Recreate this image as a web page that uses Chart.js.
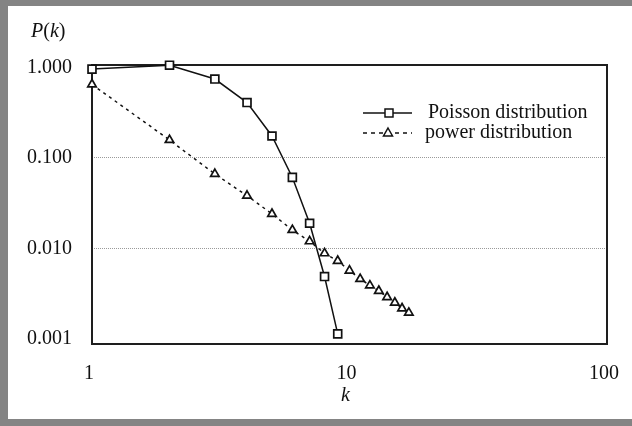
<!DOCTYPE html>
<html>
<head>
<meta charset="utf-8">
<script src="https://cdn.jsdelivr.net/npm/chart.js@4.4.1/dist/chart.umd.min.js"></script>
<style>
    html, body { margin: 0; padding: 0; background: #fff; }
    #frame {
        position: absolute; left: 0; top: 0;
        width: 632px; height: 426px; box-sizing: border-box;
        border-left: 8px solid #848484;
        border-top: 6px solid #848484;
        border-bottom: 7px solid #848484;
        background: #fff;
    }
    #box { position: relative; width: 624px; height: 413px; }
</style>
</head>
<body>
<div id="frame"><div id="box"><canvas id="grafico"></canvas></div></div>
<script>
const serif = "'Liberation Serif', 'DejaVu Serif', serif";

// valores
const kPoisson = [1, 2, 3, 4, 5, 6, 7, 8, 9];
const poissonValues = [0.96, 1.06, 0.746, 0.41, 0.175, 0.061, 0.019, 0.0049, 0.00114];

const kPower = [1, 2, 3, 4, 5, 6, 7, 8, 9, 10, 11, 12, 13, 14, 15, 16, 17];
const powerValues = [0.65, 0.158, 0.0666, 0.0383, 0.0241, 0.016, 0.012, 0.00885, 0.0073,
    0.0057, 0.0046, 0.0039, 0.0034, 0.0029, 0.00252, 0.00218, 0.00195];

const xTicks = [1, 10, 100];
const yTicks = [0.001, 0.01, 0.1, 1];
const yGridValues = [0.01, 0.1];

const seriesNames = ["Poisson distribution", "power distribution"];

// moldura, legenda e títulos dos eixos
const framePlugin = {
    id: "framePlugin",
    beforeDatasetsDraw(chart) {
        const { ctx, chartArea: a } = chart;
        ctx.save();
        ctx.strokeStyle = "#1e1e1e";
        ctx.lineWidth = 2;
        ctx.strokeRect(a.left, a.top, a.right - a.left, a.bottom - a.top);
        ctx.restore();
    },
    afterDraw(chart) {
        const { ctx, chartArea: a } = chart;
        ctx.save();
        ctx.fillStyle = "#111";
        ctx.textBaseline = "middle";

        // P(k)
        let x = 23;
        const y = 26;
        const parts = [["P", true], ["(", false], ["k", true], [")", false]];
        parts.forEach(([t, it]) => {
            ctx.font = (it ? "italic " : "") + "20px " + serif;
            ctx.fillText(t, x, y);
            x += ctx.measureText(t).width;
        });

        // k
        ctx.font = "italic 20px " + serif;
        ctx.textAlign = "center";
        ctx.fillText("k", (a.left + a.right) / 2 - 4, a.bottom + 52);

        // legenda
        ctx.textAlign = "left";
        ctx.font = "20px " + serif;
        const lx = a.left + 271;
        const rows = [a.top + 48, a.top + 68];
        ctx.strokeStyle = "#111";
        ctx.lineWidth = 1.5;

        ctx.beginPath();
        ctx.moveTo(lx, rows[0]);
        ctx.lineTo(lx + 49, rows[0]);
        ctx.stroke();
        ctx.fillStyle = "#fff";
        ctx.fillRect(lx + 22, rows[0] - 4, 8, 8);
        ctx.strokeRect(lx + 22, rows[0] - 4, 8, 8);

        ctx.setLineDash([4, 4]);
        ctx.beginPath();
        ctx.moveTo(lx, rows[1]);
        ctx.lineTo(lx + 49, rows[1]);
        ctx.stroke();
        ctx.setLineDash([]);
        const tx = lx + 25, ty = rows[1];
        ctx.beginPath();
        ctx.moveTo(tx, ty - 5);
        ctx.lineTo(tx + 4.5, ty + 3);
        ctx.lineTo(tx - 4.5, ty + 3);
        ctx.closePath();
        ctx.fill();
        ctx.stroke();

        ctx.fillStyle = "#111";
        ctx.fillText(seriesNames[0], lx + 65, rows[0]);
        ctx.fillText(seriesNames[1], lx + 62, rows[1]);
        ctx.restore();
    },
};

const data = {
    datasets: [
        {
            label: seriesNames[0],
            data: kPoisson.map((k, i) => ({ x: k, y: poissonValues[i] })),
            borderColor: "#111",
            borderWidth: 1.5,
            pointStyle: "rect",
            pointRadius: 5.6,
            pointBorderWidth: 1.7,
            pointBorderColor: "#111",
            pointBackgroundColor: "#fff",
            tension: 0,
        },
        {
            label: seriesNames[1],
            data: kPower.map((k, i) => ({ x: k, y: powerValues[i] })),
            borderColor: "#111",
            borderWidth: 1.5,
            borderDash: [3, 4],
            pointStyle: "triangle",
            pointRadius: 4.9,
            pointBorderWidth: 1.7,
            pointBorderColor: "#111",
            pointBackgroundColor: "#fff",
            tension: 0,
        },
    ],
};

const options = {
    responsive: true,
    maintainAspectRatio: false,
    animation: false,
    clip: false,
    layout: { padding: { top: 59, right: 25, left: 0, bottom: 0 } },
    plugins: {
        legend: { display: false },
        tooltip: { enabled: false },
    },
    scales: {
        x: {
            type: "logarithmic",
            min: 1,
            max: 100,
            afterBuildTicks: (s) => { s.ticks = xTicks.map((v) => ({ value: v })); },
            afterFit: (s) => { s.height = 75; s.paddingLeft = 0; s.paddingRight = 0; },
            grid: { display: false, drawTicks: false },
            border: { display: false },
            ticks: {
                padding: 18,
                labelOffset: -3,
                color: "#111",
                font: { family: serif, size: 20 },
                maxRotation: 0,
                callback: (v) => String(v),
            },
        },
        y: {
            type: "logarithmic",
            min: 0.00088,
            max: 1.066,
            afterBuildTicks: (s) => { s.ticks = yTicks.map((v) => ({ value: v })); },
            afterFit: (s) => { s.width = 84; },
            grid: {
                drawTicks: false,
                lineWidth: 1,
                color: (c) => (c.tick && yGridValues.includes(c.tick.value) ? "#9a9a9a" : "rgba(0,0,0,0)"),
            },
            border: { display: false, dash: [1, 1] },
            ticks: {
                padding: 20,
                color: "#111",
                font: { family: serif, size: 20 },
                callback: (v) => Number(v).toFixed(3),
            },
        },
    },
};

new Chart(document.getElementById("grafico"), {
    type: "line",
    data: data,
    options: options,
    plugins: [framePlugin],
});
</script>
</body>
</html>
